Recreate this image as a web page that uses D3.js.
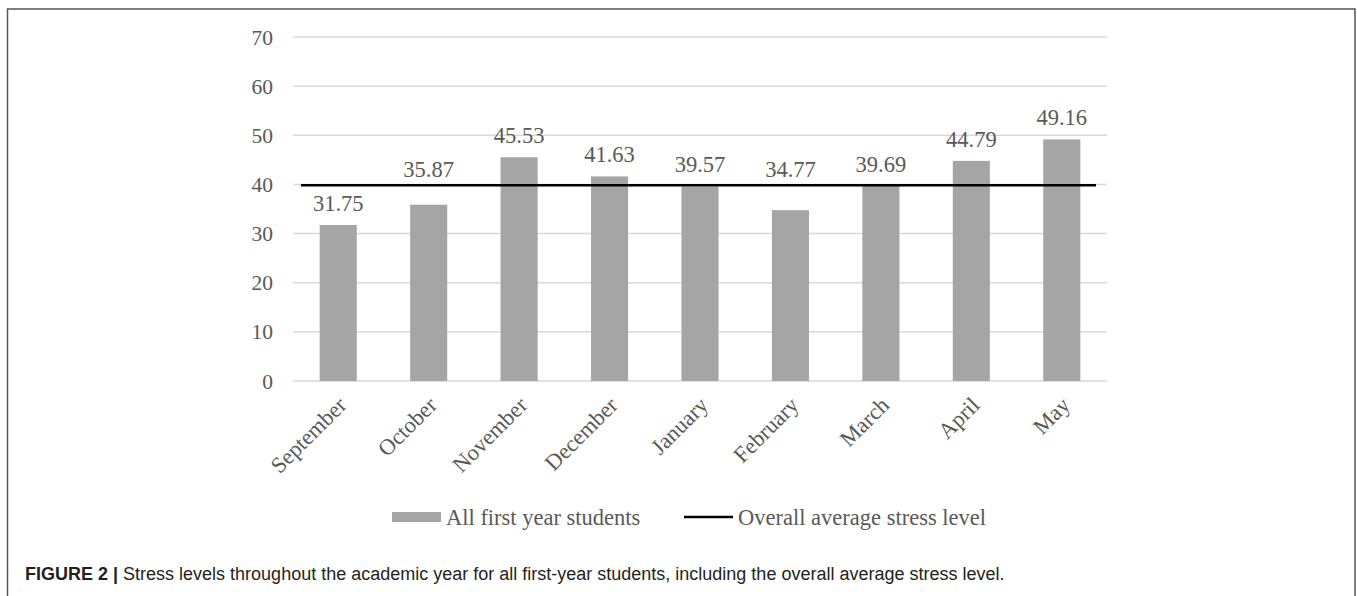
<!DOCTYPE html>
<html>
<head>
<meta charset="utf-8">
<script src="https://cdn.jsdelivr.net/npm/d3@7/dist/d3.min.js"></script>
<style>
  html, body { margin: 0; padding: 0; background: #fff; }
  svg { display: block; }
</style>
</head>
<body>
<div id="chart"></div>
<script>
const months = ["September", "October", "November", "December", "January", "February", "March", "April", "May"];
const stress = [31.75, 35.87, 45.53, 41.63, 39.57, 34.77, 39.69, 44.79, 49.16];
const overallAverage = 39.85;
const yTicks = [0, 10, 20, 30, 40, 50, 60, 70];
const seriesNames = ["All first year students", "Overall average stress level"];
const captionBold = "FIGURE 2 |";
const captionText = " Stress levels throughout the academic year for all first-year students, including the overall average stress level.";

const width = 1357, height = 596;
const plot = { left: 293, right: 1107, top: 37, bottom: 381 };
const textGrey = "#595959";
const serif = "'Liberation Serif', 'Times New Roman', serif";

const svg = d3.select("#chart").append("svg")
    .attr("width", width)
    .attr("height", height);

// frame round the figure (no bottom edge)
svg.append("path")
    .attr("d", `M7.5,${height} V9 H1355 V${height}`)
    .attr("fill", "none")
    .attr("stroke", "#555")
    .attr("stroke-width", 1.5);

const x = d3.scaleBand().domain(months).range([plot.left, plot.right]).paddingInner(0.59).paddingOuter(0.295);
const y = d3.scaleLinear().domain([0, 70]).range([plot.bottom, plot.top]);

// gridlines
svg.append("g").selectAll("line").data(yTicks).join("line")
    .attr("x1", plot.left).attr("x2", plot.right)
    .attr("y1", d => y(d)).attr("y2", d => y(d))
    .attr("stroke", "#d9d9d9")
    .attr("stroke-width", 1.5);

// y tick labels
svg.append("g").selectAll("text").data(yTicks).join("text")
    .attr("x", plot.left - 20)
    .attr("y", d => y(d))
    .attr("dy", "0.35em")
    .attr("text-anchor", "end")
    .attr("font-family", serif)
    .attr("font-size", 21.5)
    .attr("fill", textGrey)
    .text(d => d);

// bars
svg.append("g").selectAll("rect").data(stress).join("rect")
    .attr("x", (d, i) => x(months[i]))
    .attr("width", x.bandwidth())
    .attr("y", d => y(d))
    .attr("height", d => y(0) - y(d))
    .attr("fill", "#a5a5a5");

// overall average line
const lineY = y(overallAverage);
svg.append("line")
    .attr("x1", plot.left + 8).attr("x2", plot.right - 11)
    .attr("y1", lineY).attr("y2", lineY)
    .attr("stroke", "#000")
    .attr("stroke-width", 2.5);

// data labels, pushed above the average line where they would hit it
svg.append("g").selectAll("text").data(stress).join("text")
    .attr("x", (d, i) => x(months[i]) + x.bandwidth() / 2)
    .attr("y", d => {
        let c = y(d) - 22;
        if (Math.abs(c - lineY) < 14) c = lineY - 16;
        return c;
    })
    .attr("dy", "0.35em")
    .attr("text-anchor", "middle")
    .attr("font-family", serif)
    .attr("font-size", 22.5)
    .attr("fill", textGrey)
    .text(d => d.toFixed(2));

// category labels
svg.append("g").selectAll("text").data(months).join("text")
    .attr("transform", d => `translate(${x(d) + x.bandwidth() / 2 + 4},${plot.bottom + 20}) rotate(-45)`)
    .attr("dy", "0.35em")
    .attr("text-anchor", "end")
    .attr("font-family", serif)
    .attr("font-size", 22.5)
    .attr("fill", textGrey)
    .text(d => d);

// legend
const legY = 517;
const leg = svg.append("g");
leg.append("rect")
    .attr("x", 392).attr("y", legY - 5)
    .attr("width", 49).attr("height", 10)
    .attr("fill", "#a5a5a5");
leg.append("text")
    .attr("x", 446).attr("y", legY).attr("dy", "0.35em")
    .attr("font-family", serif).attr("font-size", 22.5).attr("fill", textGrey)
    .text(seriesNames[0]);
leg.append("line")
    .attr("x1", 684).attr("x2", 733)
    .attr("y1", legY).attr("y2", legY)
    .attr("stroke", "#000").attr("stroke-width", 2.5);
leg.append("text")
    .attr("x", 738).attr("y", legY).attr("dy", "0.35em")
    .attr("font-family", serif).attr("font-size", 22.5).attr("fill", textGrey)
    .text(seriesNames[1]);

// caption
const cap = svg.append("text")
    .attr("x", 25).attr("y", 580)
    .attr("font-family", "'Liberation Sans', Arial, sans-serif")
    .attr("font-size", 18)
    .attr("fill", "#231f20");
cap.append("tspan").attr("font-weight", "bold").text(captionBold);
cap.append("tspan").text(captionText);
</script>
</body>
</html>
